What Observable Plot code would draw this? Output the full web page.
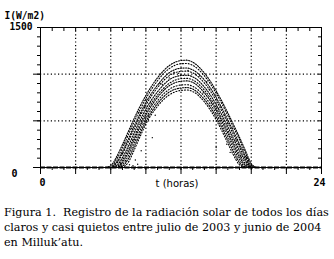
<!DOCTYPE html>
<html><head><meta charset="utf-8">
<script src="https://cdn.jsdelivr.net/npm/d3@7"></script>
<script src="https://cdn.jsdelivr.net/npm/@observablehq/plot@0.6"></script>
<style>
body{margin:0;background:#fff;width:334px;height:259px;overflow:hidden}
#chart svg{display:block}
#cap{font-family:"DejaVu Serif";font-size:11.2px;line-height:15px;padding:10px 0 0 4px;white-space:nowrap;color:#000}
</style></head><body><div id="chart"></div>
<div id="cap">Figura 1.&nbsp; Registro de la radiación solar de todos los días<br>claros y casi quietos entre julio de 2003 y junio de 2004<br>en Milluk’atu.</div>
<script>
const hours = [0,5.5,6,6.5,7,7.5,8,8.5,9,10,11,12,12.5,13,14,15,15.5,16,16.5,17,17.5,18,18.5,24];
const day1  = [0,0,20,115,245,385,525,655,772,962,1092,1146,1150,1128,1012,822,708,584,455,322,182,42,0,0];
const day2  = [0,0,5,88,210,350,490,618,738,930,1060,1112,1114,1094,982,795,680,556,425,296,155,24,0,0];
const day3  = [0,0,0,58,170,304,444,574,696,884,1016,1064,1066,1046,938,750,634,510,380,250,118,10,0,0];
const day4  = [0,0,0,42,146,276,414,546,668,856,984,1030,1033,1014,905,718,602,478,348,218,92,5,0,0];
const day5  = [0,0,0,20,106,228,370,504,626,812,940,985,988,972,862,676,560,436,306,180,68,0,0,0];
const day6  = [0,0,0,8,78,192,330,466,590,778,902,952,955,938,828,642,524,400,270,144,42,0,0,0];
const day7  = [0,0,0,0,56,162,300,436,562,752,876,924,928,912,800,614,494,368,238,112,22,0,0,0];
const day8  = [0,0,0,0,34,126,262,398,526,716,838,884,887,870,762,578,456,332,202,82,8,0,0,0];
const day9  = [0,0,0,0,16,92,224,364,492,686,808,852,856,840,730,544,424,294,164,52,0,0,0,0];
const day10 = [0,0,0,0,5,56,186,330,466,656,778,826,830,814,702,512,390,258,128,28,0,0,0,0];
const strayHours  = [6.9,7.3,7.6,8.1,8.6,9.55,9.8,10.6,14.6,15.0,15.9,16.2,16.6,17.1,17.4,13.9,10.2,11.4,7.9,8.3,
                     7.0,7.2,7.8,8.4,8.9,9.2,9.4,10.4,11.0,11.8,12.6,13.3,14.2,14.9,15.4,15.7,16.4,16.9,17.3,17.8,
                     6.6,7.4,8.0,9.0,13.6,14.4,15.2,16.0,16.8,17.6];
const strayValues = [40,70,30,80,180,320,560,840,690,215,250,162,290,120,50,800,900,1020,20,35,
                     150,260,420,590,650,560,700,890,960,1010,1040,990,920,780,650,560,420,250,190,90,
                     60,330,300,720,980,840,630,470,300,110];
const hourTicks = d3.range(0, 25, 1);
const majorHourTicks = [0,3,6,9,12,15,18,21,24];
const gridHours = [3,6,9,12,15,18,21];
const wTicks = d3.range(0, 1501, 100);
const majorWTicks = [0,500,1000];
const gridW = [500,1000];
const xTickLabels = ["0","24"];
const yTickLabels = ["0","1500"];
const yTickValues = [0,1500];

const days = [day1,day2,day3,day4,day5,day6,day7,day8,day9,day10];
const rows = days.flatMap((vals, i) => vals.map((v, j) => ({day: i + 1, t: hours[j], I: v})));
const strays = strayHours.map((t, i) => ({t, I: strayValues[i]}));

const mono = "DejaVu Sans Mono";
const chart = Plot.plot({
  width: 334, height: 195,
  marginLeft: 40, marginRight: 13, marginTop: 27, marginBottom: 28,
  x: {domain: [0, 24]},
  y: {domain: [0, 1500]},
  style: {background: "white", color: "black"},
  marks: [
    Plot.ruleX(gridHours, {stroke: "black", strokeWidth: 1.2, strokeDasharray: "1.2,2.4"}),
    Plot.ruleY(gridW, {stroke: "black", strokeWidth: 1.2, strokeDasharray: "1.2,2.4"}),
    Plot.frame({stroke: "black"}),
    Plot.axisX({anchor: "bottom", ticks: hourTicks, tickSize: 3, tickFormat: () => "", label: null}),
    Plot.axisX({anchor: "bottom", ticks: majorHourTicks, tickSize: 7, tickFormat: () => "", label: null}),
    Plot.axisY({anchor: "left", ticks: wTicks, tickSize: 3, tickFormat: () => "", label: null}),
    Plot.axisY({anchor: "left", ticks: majorWTicks, tickSize: 7, tickFormat: () => "", label: null}),
    Plot.tickX(hourTicks, {x: d => d, stroke: "black", insetBottom: 136}),
    Plot.tickY(wTicks, {y: d => d, stroke: "black", insetLeft: 278}),
    Plot.line(rows, {filter: d => d.day % 2 === 1, x: "t", y: "I", z: "day", curve: "monotone-x", stroke: "black", strokeWidth: 1.1, strokeDasharray: "1.2,1.4"}),
    Plot.line(rows, {filter: d => d.day % 2 === 0, x: "t", y: "I", z: "day", curve: "monotone-x", stroke: "black", strokeWidth: 1.1, strokeDasharray: "1,1.9"}),
    Plot.dot(strays, {x: "t", y: "I", r: 0.7, fill: "black", stroke: null}),
    Plot.ruleY([0], {stroke: "black", strokeWidth: 2, strokeDasharray: "5,1.5"}),
    Plot.text(["I(W/m2)"], {frameAnchor: "top-left", dx: -36, dy: -15.5, textAnchor: "start", fontFamily: mono, fontWeight: "bold", fontSize: 9.6, letterSpacing: 1.2}),
    Plot.text([yTickValues[1]], {y: d => d, text: () => yTickLabels[1], frameAnchor: "left", dx: -8, dy: -0.5, textAnchor: "end", fontFamily: mono, fontWeight: "bold", fontSize: 9.6, letterSpacing: 1.2}),
    Plot.text([yTickValues[0]], {y: d => d, text: () => yTickLabels[0], frameAnchor: "left", dx: -23, dy: 6, textAnchor: "end", fontFamily: mono, fontWeight: "bold", fontSize: 10}),
    Plot.text([0], {x: d => d, text: () => xTickLabels[0], frameAnchor: "bottom", dx: -1, dy: 18, textAnchor: "start", fontFamily: mono, fontWeight: "bold", fontSize: 10}),
    Plot.text([24], {x: d => d, text: () => xTickLabels[1], frameAnchor: "bottom", dx: 4, dy: 18, textAnchor: "end", fontFamily: mono, fontWeight: "bold", fontSize: 10, letterSpacing: 1}),
    Plot.text(["t (horas)"], {frameAnchor: "bottom", dx: -4, dy: 19, fontFamily: "DejaVu Sans", fontSize: 10})
  ]
});
document.getElementById("chart").append(chart);
</script></body></html>
